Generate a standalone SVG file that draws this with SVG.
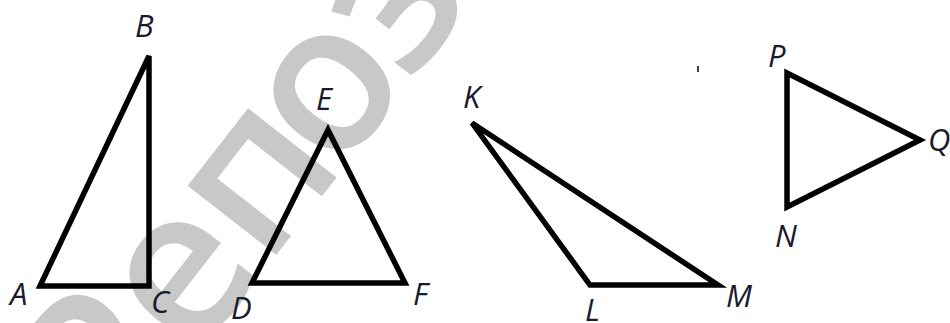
<svg xmlns="http://www.w3.org/2000/svg" width="950" height="323" viewBox="0 0 950 323">
<style>
.tri{fill:none;stroke:#000;stroke-width:5.5;stroke-linejoin:miter;stroke-miterlimit:4}
.lbl{font-family:"Open Sans","Noto Sans",sans-serif;font-style:italic;font-size:31px;fill:#1a1a2e}
.wm{font-family:"Open Sans","Noto Sans",sans-serif;font-weight:600;font-size:208px;fill:#c8c8c8;text-anchor:middle}
</style>
<rect width="950" height="323" fill="#fff"/>
<g id="watermark" transform="translate(280,250) rotate(-52)">
<text class="wm" x="-205" y="0">Р</text>
<text class="wm" x="-81" y="0">е</text>
<text class="wm" x="43" y="0">п</text>
<text class="wm" x="156" y="0">о</text>
<text class="wm" x="265" y="0">з</text>
</g>
<g id="connectors">
<polygon id="tri-ABC" class="tri" points="40,286 149,56 149,286"/>
<polygon id="tri-DEF" class="tri" points="252,283 328,130 405,283"/>
<polygon id="tri-KLM" class="tri" points="472,123 590,285 718,285"/>
<polygon id="tri-PQN" class="tri" points="787,73 920,140 787,207"/>
<line x1="698" y1="66" x2="698" y2="72" stroke="#000" stroke-width="1.5"/>
</g>
<g id="node-A"><text class="lbl" x="10" y="305">A</text></g>
<g id="node-B"><text class="lbl" x="135" y="37">B</text></g>
<g id="node-C"><text class="lbl" x="151" y="313">C</text></g>
<g id="node-D"><text class="lbl" x="231" y="319">D</text></g>
<g id="node-E"><text class="lbl" x="316" y="110">E</text></g>
<g id="node-F"><text class="lbl" x="413" y="305">F</text></g>
<g id="node-K"><text class="lbl" x="463" y="108">K</text></g>
<g id="node-L"><text class="lbl" x="585" y="321">L</text></g>
<g id="node-M"><text class="lbl" x="726" y="307">M</text></g>
<g id="node-P"><text class="lbl" x="768" y="67">P</text></g>
<g id="node-Q"><text class="lbl" x="928" y="151">Q</text></g>
<g id="node-N"><text class="lbl" x="775" y="247">N</text></g>
</svg>
